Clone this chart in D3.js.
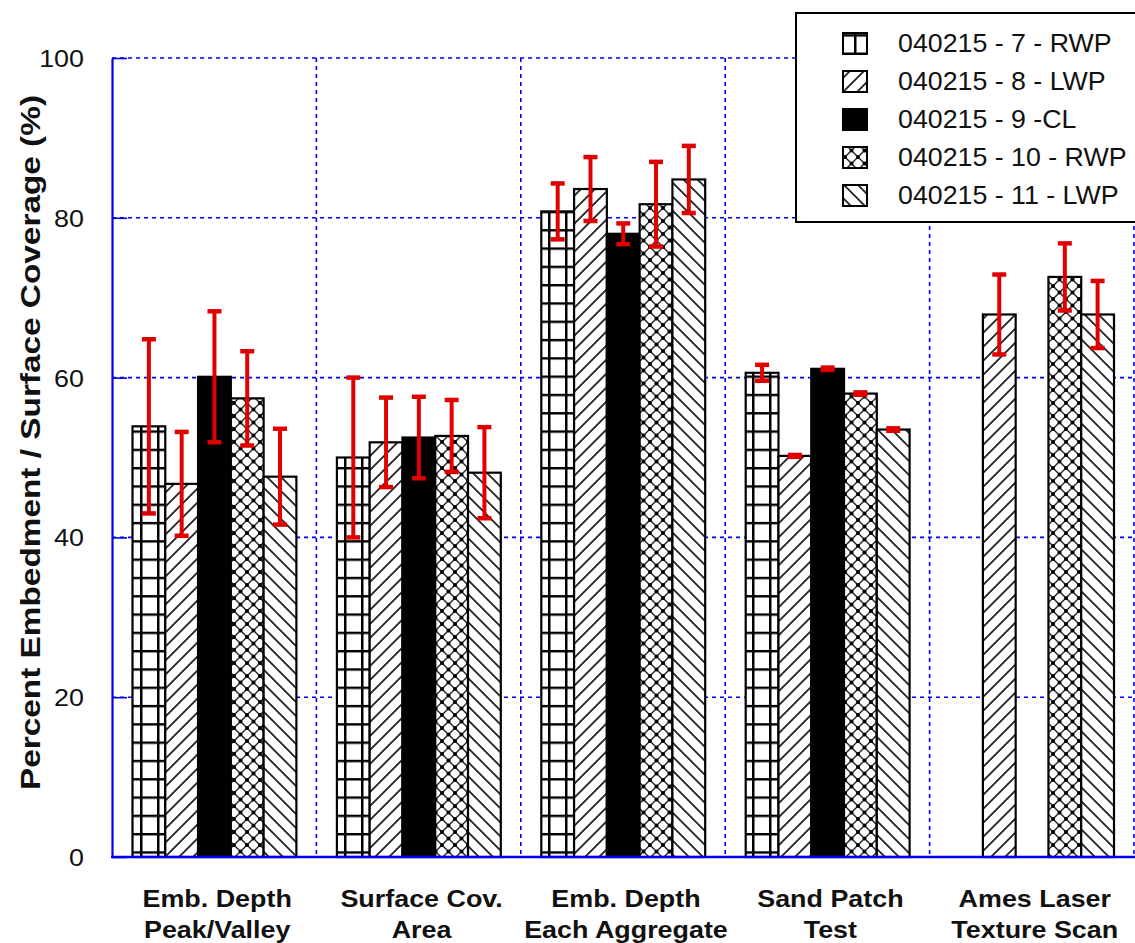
<!DOCTYPE html>
<html>
<head>
<meta charset="utf-8">
<script src="https://cdn.jsdelivr.net/npm/d3@7"></script>
<style>
  html, body { margin: 0; padding: 0; background: #fff; }
  svg { display: block; }
</style>
</head>
<body>
<svg id="chart" width="1135" height="943"></svg>
<script>
// ---------------- DATA ----------------
const categories = [
  ["Emb. Depth", "Peak/Valley"],
  ["Surface Cov.", "Area"],
  ["Emb. Depth", "Each Aggregate"],
  ["Sand Patch", "Test"],
  ["Ames Laser", "Texture Scan"]
];
const seriesNames = [
  "040215 - 7 - RWP",
  "040215 - 8 - LWP",
  "040215 - 9 -CL",
  "040215 - 10 - RWP",
  "040215 - 11 - LWP"
];
// values per series, across categories (null = no bar)
const s7  = [53.9, 50.0, 80.8, 60.6, null];
const s8  = [46.7, 51.9, 83.6, 50.2, 67.9];
const s9  = [60.1, 52.5, 78.0, 61.1, null];
const s10 = [57.4, 52.7, 81.7, 58.0, 72.6];
const s11 = [47.6, 48.1, 84.8, 53.5, 67.9];
// symmetric error (+/-)
const e7  = [10.9, 10.0, 3.5, 1.0, null];
const e8  = [6.5, 5.6, 4.0, 0.12, 5.0];
const e9  = [8.2, 5.1, 1.3, 0.15, null];
const e10 = [5.9, 4.5, 5.3, 0.15, 4.2];
const e11 = [6.0, 5.7, 4.2, 0.15, 4.2];
const yTicks = [0, 20, 40, 60, 80, 100];
const yLabel = "Percent Embedment / Surface Coverage (%)";

const values = [s7, s8, s9, s10, s11];
const errors = [e7, e8, e9, e10, e11];
const patterns = ["pGrid", "pFwd", "solid", "pCross", "pBack"];

// ---------------- LAYOUT ----------------
const svg = d3.select("#chart");
const L = 112, R = 1134, T = 58, B = 857;
const BLUE = "#0000f0";
const RED = "#e00000";

const x0 = d3.scaleBand().domain(d3.range(categories.length)).range([L, R]).padding(0);
const x1 = d3.scaleBand().domain(d3.range(seriesNames.length))
  .range([20.5, x0.bandwidth() - 20]).padding(0);
const y = d3.scaleLinear().domain([0, 100]).range([B, T]);

// ---------------- PATTERNS ----------------
const defs = svg.append("defs");
{
  const g = defs.append("pattern").attr("id", "pGrid").attr("patternUnits", "userSpaceOnUse")
    .attr("width", 17).attr("height", 18.3).attr("x", 4).attr("y", 9.5);
  g.append("rect").attr("width", 17).attr("height", 18.3).attr("fill", "#fff");
  g.append("path").attr("d", "M1.25,0 V18.3 M0,1.25 H17").attr("stroke", "#000").attr("stroke-width", 2.5);

  const f = defs.append("pattern").attr("id", "pFwd").attr("patternUnits", "userSpaceOnUse")
    .attr("width", 14).attr("height", 14);
  f.append("rect").attr("width", 14).attr("height", 14).attr("fill", "#fff");
  f.append("path").attr("d", "M-2,16 L16,-2 M-2,2 L2,-2 M12,16 L16,12")
    .attr("stroke", "#222").attr("stroke-width", 1.8);

  const b = defs.append("pattern").attr("id", "pBack").attr("patternUnits", "userSpaceOnUse")
    .attr("width", 14).attr("height", 14);
  b.append("rect").attr("width", 14).attr("height", 14).attr("fill", "#fff");
  b.append("path").attr("d", "M-2,-2 L16,16 M12,-2 L16,2 M-2,12 L2,16")
    .attr("stroke", "#222").attr("stroke-width", 1.8);

  const c = defs.append("pattern").attr("id", "pCross").attr("patternUnits", "userSpaceOnUse")
    .attr("width", 13).attr("height", 13);
  c.append("rect").attr("width", 13).attr("height", 13).attr("fill", "#fff");
  c.append("path").attr("d", "M-2,-2 L15,15 M-2,15 L15,-2")
    .attr("stroke", "#222").attr("stroke-width", 1.4);
  [[6.5,6.5],[0,0],[13,0],[0,13],[13,13]].forEach(p =>
    c.append("circle").attr("cx", p[0]).attr("cy", p[1]).attr("r", 2).attr("fill", "#000"));
}
const fillFor = i => patterns[i] === "solid" ? "#000" : `url(#${patterns[i]})`;

// ---------------- GRID ----------------
const grid = svg.append("g");
grid.selectAll("line.h").data(yTicks.filter(d => d > 0)).join("line")
  .attr("x1", L).attr("x2", R).attr("y1", d => y(d)).attr("y2", d => y(d))
  .attr("stroke", BLUE).attr("stroke-width", 1.6).attr("stroke-dasharray", "4,4");
grid.selectAll("line.v").data(d3.range(1, categories.length + 1)).join("line")
  .attr("x1", d => L + d * x0.bandwidth()).attr("x2", d => L + d * x0.bandwidth())
  .attr("y1", T).attr("y2", B)
  .attr("stroke", BLUE).attr("stroke-width", 1.6).attr("stroke-dasharray", "4,4");

// ---------------- BARS ----------------
const flat = [];
values.forEach((arr, si) => arr.forEach((v, ci) => {
  if (v != null) flat.push({ si, ci, v, e: errors[si][ci] });
}));

svg.append("g").selectAll("rect").data(flat).join("rect")
  .attr("x", d => x0(d.ci) + x1(d.si))
  .attr("y", d => y(d.v))
  .attr("width", x1.bandwidth())
  .attr("height", d => y(0) - y(d.v))
  .attr("fill", d => fillFor(d.si))
  .attr("stroke", "#000").attr("stroke-width", 2.2);

// ---------------- ERROR BARS ----------------
const eg = svg.append("g").attr("stroke", RED);
const errData = flat.filter(d => d.e != null);
const cx = d => x0(d.ci) + x1(d.si) + x1.bandwidth() / 2;
eg.selectAll("line.s").data(errData).join("line")
  .attr("x1", cx).attr("x2", cx)
  .attr("y1", d => y(d.v + d.e)).attr("y2", d => y(d.v - d.e))
  .attr("stroke-width", 4);
eg.selectAll("line.t").data(errData).join("line")
  .attr("x1", d => cx(d) - 7).attr("x2", d => cx(d) + 7)
  .attr("y1", d => y(d.v + d.e)).attr("y2", d => y(d.v + d.e))
  .attr("stroke-width", 4.5);
eg.selectAll("line.b").data(errData).join("line")
  .attr("x1", d => cx(d) - 7).attr("x2", d => cx(d) + 7)
  .attr("y1", d => y(d.v - d.e)).attr("y2", d => y(d.v - d.e))
  .attr("stroke-width", 4.5);

// ---------------- AXES ----------------
const FONT = "Liberation Sans, Arial, Helvetica, sans-serif";
function stretch(sel, factor) {
  sel.each(function () {
    const len = this.getComputedTextLength();
    d3.select(this).attr("textLength", len * factor).attr("lengthAdjust", "spacingAndGlyphs");
  });
}

const yAxis = d3.axisLeft(y).tickValues(yTicks).tickSize(-15).tickPadding(28).tickSizeOuter(0);
const ya = svg.append("g").attr("transform", `translate(${L},0)`).call(yAxis);
ya.select(".domain").attr("stroke", BLUE).attr("stroke-width", 2.2);
ya.selectAll(".tick line").attr("stroke", BLUE).attr("stroke-width", 1.6);
ya.selectAll(".tick text").attr("font-family", FONT).attr("font-size", 24)
  .attr("fill", "#111").attr("dy", "0.35em");
stretch(ya.selectAll(".tick text"), 1.12);

// bottom axis line
svg.append("line").attr("x1", L - 1).attr("x2", 1135).attr("y1", B).attr("y2", B)
  .attr("stroke", BLUE).attr("stroke-width", 2.6);

// y label
const yl = svg.append("text")
  .attr("transform", `translate(40,${(95 + 790) / 2}) rotate(-90)`)
  .attr("text-anchor", "middle")
  .attr("font-family", FONT).attr("font-weight", "bold").attr("font-size", 27)
  .attr("fill", "#111").text(yLabel);
stretch(yl, 695 / yl.node().getComputedTextLength());

// category labels
const cl = svg.append("g").selectAll("text").data(categories).join("text")
  .attr("x", (d, i) => x0(i) + x0.bandwidth() / 2 + 3)
  .attr("text-anchor", "middle")
  .attr("font-family", FONT).attr("font-weight", "bold").attr("font-size", 24)
  .attr("fill", "#111");
cl.append("tspan").attr("y", 907).text(d => d[0]);
cl.append("tspan").attr("y", 938).attr("x", (d, i) => x0(i) + x0.bandwidth() / 2 + 3).text(d => d[1]);
cl.selectAll("tspan").each(function () {
  const len = this.getComputedTextLength();
  d3.select(this).attr("textLength", len * 1.12).attr("lengthAdjust", "spacingAndGlyphs");
});

// ---------------- LEGEND ----------------
const lg = svg.append("g");
lg.append("rect").attr("x", 796).attr("y", 13).attr("width", 360).attr("height", 209)
  .attr("fill", "#fff").attr("stroke", "#000").attr("stroke-width", 2);
const rowY = d3.scaleLinear().domain([0, seriesNames.length - 1]).range([43, 195]);
const items = lg.selectAll("g.item").data(seriesNames).join("g")
  .attr("transform", (d, i) => `translate(0,${rowY(i)})`);
items.append("rect").attr("x", 843).attr("y", -10).attr("width", 24).attr("height", 21)
  .attr("fill", (d, i) => fillFor(i)).attr("stroke", "#000").attr("stroke-width", 2);
const lt = items.append("text").attr("x", 898).attr("y", 9)
  .attr("font-family", FONT).attr("font-size", 25).attr("fill", "#111").text(d => d);
stretch(lt, 1.07);
</script>
</body>
</html>
